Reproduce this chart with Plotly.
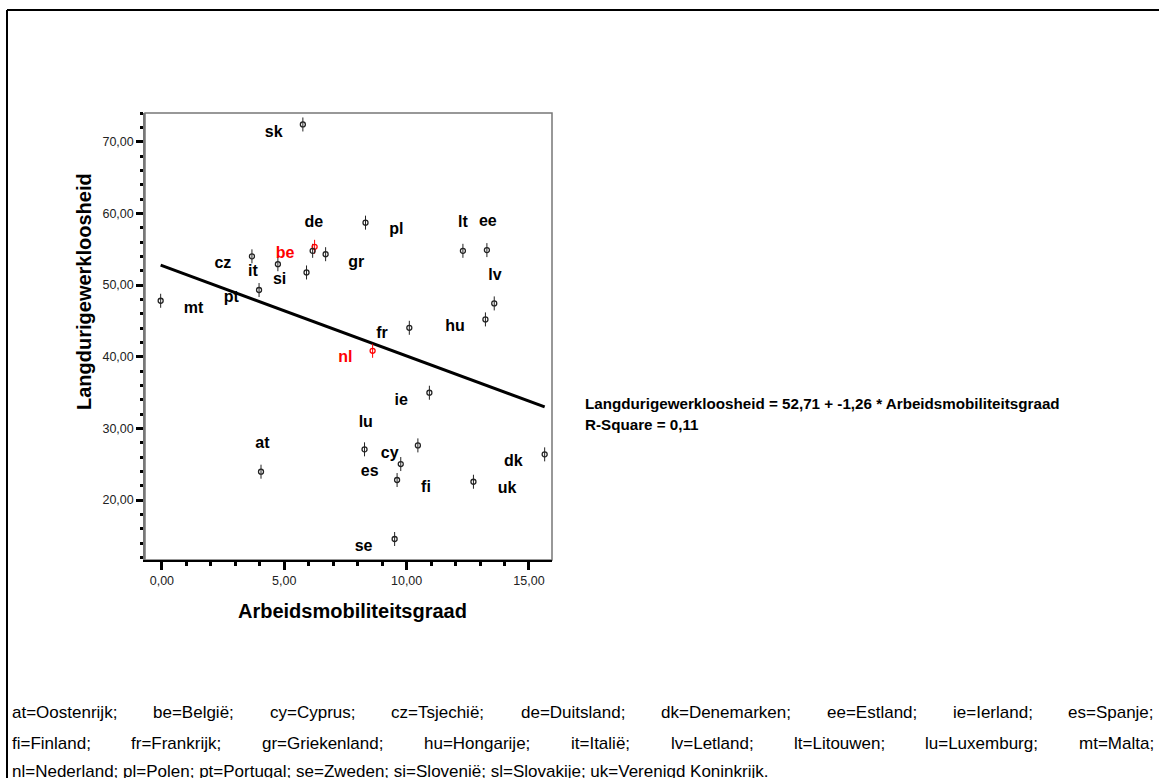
import plotly.graph_objects as go

# ---------------- data ----------------
codes = ["mt", "pt", "cz", "it", "be", "de", "gr", "si", "sk", "pl", "lt", "ee", "lv",
         "hu", "fr", "nl", "ie", "lu", "es", "cy", "dk", "at", "fi", "uk", "se"]
mobility = [-0.05, 3.97, 3.68, 4.74, 6.24, 6.16, 6.69, 5.91, 5.76, 8.32, 12.30, 13.28, 13.58,
            13.22, 10.11, 8.61, 10.93, 10.46, 8.28, 9.76, 15.64, 4.05, 9.61, 12.73, 9.51]
unemployment = [47.8, 49.3, 54.0, 52.9, 55.33, 54.77, 54.3, 51.75, 72.4, 58.7, 54.77, 54.87, 47.43,
                45.2, 44.03, 40.82, 34.97, 27.62, 27.07, 25.02, 26.37, 23.95, 22.79, 22.55, 14.56]
label_x = [1.29, 2.84, 2.49, 3.72, 5.03, 6.21, 7.94, 4.81, 4.57, 9.58, 12.30, 13.32, 13.61,
           11.98, 8.99, 7.50, 9.78, 8.33, 8.49, 9.31, 14.36, 4.11, 10.79, 14.10, 8.24]
label_y = [46.64, 48.13, 52.87, 51.76, 54.31, 58.59, 53.10, 50.68, 71.19, 57.66, 58.68, 58.73, 51.28,
           44.09, 43.11, 39.80, 33.85, 30.78, 23.86, 26.42, 25.26, 27.81, 21.72, 21.53, 13.49]
highlighted = ["be", "nl"]

intercept = 52.71
slope = -1.26
r_square = "0,11"

x_ticks = [0, 5, 10, 15]
y_ticks = [20, 30, 40, 50, 60, 70]

x_title = "Arbeidsmobiliteitsgraad"
y_title = "Langdurigewerkloosheid"

legend_line1 = ["at=Oostenrijk;", "be=België;", "cy=Cyprus;", "cz=Tsjechië;", "de=Duitsland;",
                "dk=Denemarken;", "ee=Estland;", "ie=Ierland;", "es=Spanje;"]
legend_line2 = ["fi=Finland;", "fr=Frankrijk;", "gr=Griekenland;", "hu=Hongarije;", "it=Italië;",
                "lv=Letland;", "lt=Litouwen;", "lu=Luxemburg;", "mt=Malta;"]
legend_line3 = ("nl=Nederland; pl=Polen; pt=Portugal; se=Zweden; si=Slovenië; "
                "sl=Slovakije; uk=Verenigd Koninkrijk.")

# ---------------- layout geometry ----------------
W, H = 1159, 778
L, R, T, B = 145, 552, 113, 560   # plot area in pixels


def px(xp):
    return (xp - L) / (R - L)


def py(yp):
    return (B - yp) / (B - T)


FONT = "Liberation Sans, Arial, sans-serif"

# Arial / Liberation Sans advance widths (per 1000 em)
AW = {' ': 278, ';': 278, '=': 584, '.': 278, 'a': 556, 'b': 556, 'c': 500, 'd': 556, 'e': 556,
      'f': 278, 'g': 556, 'h': 556, 'i': 222, 'j': 222, 'k': 500, 'l': 222, 'm': 833, 'n': 556,
      'o': 556, 'p': 556, 'r': 333, 's': 500, 't': 278, 'u': 556, 'v': 500, 'w': 722, 'x': 500,
      'y': 500, 'z': 500, 'ë': 556, 'B': 667, 'C': 722, 'D': 722, 'E': 667, 'F': 611, 'G': 778,
      'H': 722, 'I': 278, 'K': 667, 'L': 556, 'M': 833, 'N': 722, 'O': 778, 'P': 667, 'S': 667,
      'T': 611, 'V': 667, 'Z': 611}


def text_w(s, size):
    return sum(AW.get(c, 556) for c in s) * size / 1000.0


colors = ["red" if c in highlighted else "#222222" for c in codes]
lab_colors = ["red" if c in highlighted else "black" for c in codes]

fig = go.Figure()

# regression line
xmin, xmax = min(mobility), max(mobility)
fig.add_trace(go.Scatter(x=[xmin, xmax], y=[intercept + slope * xmin, intercept + slope * xmax],
                         mode="lines", line=dict(color="black", width=3), hoverinfo="skip"))

# markers (vertical stroke + small open circle)
fig.add_trace(go.Scatter(x=mobility, y=unemployment, mode="markers",
                         marker=dict(symbol="line-ns", size=10, color=colors,
                                     line=dict(color=colors, width=1))))
fig.add_trace(go.Scatter(x=mobility, y=unemployment, mode="markers",
                         marker=dict(symbol="circle-open", size=5, color=colors,
                                     line=dict(color=colors, width=1.3))))

# point labels
fig.add_trace(go.Scatter(x=label_x, y=label_y, mode="text", text=codes,
                         textposition="middle center",
                         textfont=dict(family=FONT, size=16, color=lab_colors, weight="bold")))

shapes = []
# outer frame (top and left)
shapes.append(dict(type="line", xref="paper", yref="paper", x0=px(7), x1=px(W + 5), y0=py(10), y1=py(10),
                   line=dict(color="black", width=2)))
shapes.append(dict(type="line", xref="paper", yref="paper", x0=px(7), x1=px(7), y0=py(10), y1=py(H + 5),
                   line=dict(color="black", width=2)))
# plot box
shapes.append(dict(type="rect", xref="paper", yref="paper", x0=0, x1=1, y0=0, y1=1,
                   line=dict(color="#777777", width=1.5), layer="below"))

annotations = []
annotations.append(dict(xref="paper", yref="paper", x=px(352), y=py(611), text=f"<b>{x_title}</b>",
                        showarrow=False, font=dict(family=FONT, size=20, color="black"),
                        xanchor="center", yanchor="middle"))
annotations.append(dict(xref="paper", yref="paper", x=px(84), y=py(292), text=f"<b>{y_title}</b>",
                        showarrow=False, textangle=-90, font=dict(family=FONT, size=20, color="black"),
                        xanchor="center", yanchor="middle"))

eq1 = f"{y_title} = {intercept:.2f} + {slope:.2f} * {x_title}".replace(".", ",")
eq2 = f"R-Square = {r_square}"
annotations.append(dict(xref="paper", yref="paper", x=px(583), y=py(403), text=f"<b>{eq1}</b>",
                        showarrow=False, font=dict(family=FONT, size=15.2, color="black"),
                        xanchor="left", yanchor="middle"))
annotations.append(dict(xref="paper", yref="paper", x=px(583), y=py(424), text=f"<b>{eq2}</b>",
                        showarrow=False, font=dict(family=FONT, size=15.2, color="black"),
                        xanchor="left", yanchor="middle"))

# footer, justified lines
FS = 17
left_px, right_px = 10, 1152
for items, ypix in [(legend_line1, 712), (legend_line2, 743)]:
    widths = [text_w(s, FS) for s in items]
    gap = (right_px - left_px - sum(widths)) / (len(items) - 1)
    xcur = left_px
    for s, w in zip(items, widths):
        annotations.append(dict(xref="paper", yref="paper", x=px(xcur), y=py(ypix), text=s,
                                showarrow=False, font=dict(family=FONT, size=FS, color="black"),
                                xanchor="left", yanchor="middle"))
        xcur += w + gap
annotations.append(dict(xref="paper", yref="paper", x=px(left_px), y=py(771), text=legend_line3,
                        showarrow=False, font=dict(family=FONT, size=FS, color="black"),
                        xanchor="left", yanchor="middle"))

fig.update_layout(
    width=W, height=H,
    margin=dict(l=L, r=W - R, t=T, b=H - B, pad=0),
    paper_bgcolor="white", plot_bgcolor="white",
    showlegend=False,
    separators=",.",
    shapes=shapes, annotations=annotations,
    font=dict(family=FONT, color="black"),
)
fig.update_xaxes(range=[-0.69, 15.94], tickvals=x_ticks, tickformat=".2f", showgrid=False,
                 zeroline=False, showline=True, linecolor="black", linewidth=1.5,
                 ticks="outside", ticklen=8, tickwidth=3, tickcolor="black",
                 tickfont=dict(family=FONT, size=12.5, color="#222222"),
                 minor=dict(dtick=1, tick0=0, ticks="outside", ticklen=4, tickwidth=3, tickcolor="black"))
fig.update_yaxes(range=[11.63, 74.0], tickvals=y_ticks, tickformat=".2f", showgrid=False,
                 zeroline=False, showline=True, linecolor="#777777", linewidth=1.5,
                 ticks="outside", ticklen=7, tickwidth=3, tickcolor="black",
                 tickfont=dict(family=FONT, size=12.5, color="#222222"),
                 minor=dict(dtick=2, tick0=0, ticks="outside", ticklen=3, tickwidth=3, tickcolor="black"))

fig.write_html("out.html", config={"displayModeBar": False},
               post_script="document.body.style.margin='0';")
